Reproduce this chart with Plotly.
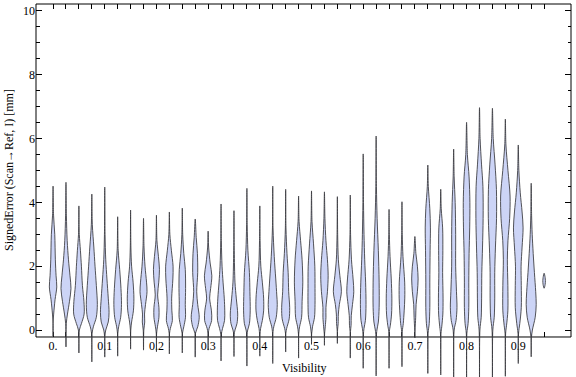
import plotly.graph_objects as go

# Violin positions (Visibility)
POSITIONS = [0.0, 0.025, 0.05, 0.075, 0.1, 0.125, 0.15, 0.175, 0.2, 0.225,
             0.25, 0.275, 0.3, 0.325, 0.35, 0.375, 0.4, 0.425, 0.45, 0.475,
             0.5, 0.525, 0.55, 0.575, 0.6, 0.625, 0.65, 0.675, 0.7, 0.725,
             0.75, 0.775, 0.8, 0.825, 0.85, 0.875, 0.9, 0.925, 0.95]

# Density profile knots of each violin (SignedError values, top to bottom)
PROFILE_Y = [
    [4.51, 3.6, 3.0, 2.2, 1.7, 1.35, 0.95, 0.5, 0.25, -0.2],
    [4.63, 3.6, 2.8, 2.2, 1.7, 1.3, 0.9, 0.5, 0.2, -0.53],
    [3.89, 3.0, 2.5, 2.0, 1.4, 0.9, 0.5, 0.2, 0.0, -0.72],
    [4.26, 3.3, 2.6, 2.0, 1.4, 0.8, 0.4, 0.1, -0.1, -1.0],
    [4.48, 3.0, 2.2, 1.6, 1.0, 0.55, 0.25, 0.0, -0.2, -0.85],
    [3.55, 2.5, 1.9, 1.3, 0.8, 0.4, 0.1, -0.1, -0.82],
    [3.76, 2.6, 2.0, 1.5, 1.0, 0.6, 0.25, 0.0, -0.6],
    [3.5, 2.6, 2.0, 1.5, 1.2, 0.8, 0.5, 0.25, 0.0, -0.63],
    [3.6, 2.8, 2.3, 1.9, 1.5, 1.1, 0.7, 0.4, 0.1, -0.1, -0.68],
    [3.7, 3.0, 2.5, 2.0, 1.6, 1.0, 0.6, 0.3, 0.05, -0.1, -0.75],
    [3.82, 3.0, 2.4, 1.9, 1.3, 0.8, 0.4, 0.1, -0.1, -0.72],
    [3.48, 2.9, 2.4, 1.8, 1.2, 0.8, 0.4, 0.1, -0.1, -0.85],
    [3.1, 2.6, 2.1, 1.7, 1.3, 1.0, 0.6, 0.3, 0.05, -0.1, -0.63],
    [3.95, 2.8, 2.0, 1.5, 1.0, 0.6, 0.3, 0.05, -0.15, -0.97],
    [3.74, 2.5, 1.5, 1.0, 0.5, 0.2, 0.0, -0.15, -0.83],
    [4.44, 3.3, 2.5, 1.8, 1.2, 0.6, 0.2, 0.0, -0.15, -1.13],
    [3.89, 2.8, 2.0, 1.5, 1.0, 0.6, 0.3, 0.05, -0.15, -0.82],
    [4.51, 3.2, 2.3, 1.6, 1.1, 0.8, 0.4, 0.1, -0.1, -1.05],
    [4.41, 3.2, 2.4, 1.8, 1.2, 0.7, 0.35, 0.05, -0.1, -0.69],
    [4.2, 3.4, 2.8, 2.2, 1.5, 0.9, 0.4, 0.1, -0.1, -0.88],
    [4.36, 3.4, 2.7, 2.0, 1.3, 0.8, 0.4, 0.1, -0.1, -0.45],
    [4.33, 3.5, 2.8, 2.2, 1.7, 1.2, 0.7, 0.4, 0.1, -0.1, -0.48],
    [4.18, 3.0, 2.2, 1.7, 1.2, 0.8, 0.5, 0.2, 0.0, -0.42],
    [4.23, 3.0, 2.2, 1.6, 1.2, 0.8, 0.45, 0.15, -0.05, -0.88],
    [5.52, 4.0, 3.0, 2.2, 1.5, 0.8, 0.3, 0.05, -0.15, -1.2],
    [6.08, 4.5, 3.5, 2.5, 1.5, 0.7, 0.25, 0.0, -0.2, -1.44],
    [3.78, 3.0, 2.3, 1.6, 1.0, 0.5, 0.15, -0.05, -1.2],
    [4.02, 3.0, 2.3, 1.5, 1.0, 0.6, 0.2, -0.05, -1.15],
    [2.93, 2.4, 2.0, 1.6, 1.2, 0.8, 0.4, 0.0, -0.25],
    [5.17, 4.5, 3.8, 3.2, 2.5, 1.5, 0.7, 0.2, -0.1, -1.36],
    [4.41, 3.8, 3.2, 2.5, 1.8, 1.0, 0.5, 0.1, -0.1, -1.41],
    [5.67, 4.8, 4.0, 3.0, 2.0, 1.2, 0.7, 0.3, 0.0, -1.5],
    [6.51, 5.5, 4.8, 4.0, 3.2, 2.4, 1.5, 0.7, 0.2, -0.1, -1.55],
    [6.97, 6.0, 5.2, 4.5, 3.5, 2.6, 1.8, 1.0, 0.4, 0.0, -1.6],
    [6.95, 6.0, 5.2, 4.4, 3.5, 2.6, 1.8, 1.0, 0.4, 0.0, -1.55],
    [6.61, 5.8, 5.0, 4.2, 3.5, 2.8, 2.2, 1.4, 0.6, 0.15, -0.1, -1.45],
    [5.8, 5.0, 4.3, 3.7, 3.2, 2.6, 2.0, 1.4, 0.7, 0.2, -0.1, -1.05],
    [4.6, 3.6, 3.0, 2.4, 1.8, 1.2, 0.8, 0.4, 0.0, -0.25, -0.84],
    [1.78, 1.65, 1.55, 1.42, 1.31],
]

# Relative density (half-width) at each knot
PROFILE_D = [
    [0, 0.5, 1.7, 2.3, 3, 3.7, 2, 0.6, 0, 0],
    [0, 0.4, 1.2, 2.5, 4, 5, 3.5, 1.5, 0.3, 0],
    [0, 0.4, 1.5, 2.5, 3.5, 5, 5.2, 2.5, 0.5, 0],
    [0, 0.5, 2, 3.2, 4.5, 5.5, 4.5, 1.5, 0.3, 0],
    [0, 0.3, 1, 2.2, 3.5, 4.3, 3.5, 1, 0.2, 0],
    [0, 0.5, 2, 3.3, 3.8, 3, 1, 0.2, 0],
    [0, 0.3, 1, 2.5, 3.3, 2.8, 1, 0.2, 0],
    [0, 0.5, 1.5, 3, 3.5, 2, 1, 1.2, 0.3, 0],
    [0, 0.5, 2, 3, 2.3, 1.2, 2.5, 2.5, 1, 0.2, 0],
    [0, 0.5, 2, 3.7, 3.5, 2.3, 2.5, 3, 1, 0.2, 0],
    [0, 0.4, 1.5, 3, 3.3, 3, 3.2, 1.5, 0.2, 0],
    [0, 1, 2.2, 2.5, 1.5, 2.5, 4, 2.5, 0.3, 0],
    [0, 0.5, 2, 3.7, 2.5, 1.5, 3.3, 3.5, 1, 0.2, 0],
    [0, 0.3, 1, 2, 3.2, 3.7, 3.5, 1.5, 0.2, 0],
    [0, 0.3, 1, 2.3, 3.7, 3, 1, 0.2, 0],
    [0, 0.3, 1, 2.5, 3, 3.3, 2.5, 0.8, 0.2, 0],
    [0, 0.3, 1, 2.5, 3.8, 3.8, 2.5, 0.8, 0.2, 0],
    [0, 0.3, 1.5, 3, 4, 4.5, 3.5, 1, 0.2, 0],
    [0, 0.3, 1.3, 2.5, 3, 4, 3.5, 1, 0.2, 0],
    [0, 0.5, 2, 3.5, 4.2, 3.5, 3, 1, 0.2, 0],
    [0, 0.5, 2, 3.3, 3.5, 3.5, 3, 1, 0.2, 0],
    [0, 0.5, 1.5, 3, 3.7, 3, 1.5, 1.5, 0.8, 0.2, 0],
    [0, 0.3, 1, 2.5, 4, 2, 1, 0.8, 0.2, 0],
    [0, 0.3, 1.2, 2.8, 3.5, 2.2, 1, 0.8, 0.2, 0],
    [0, 0.3, 0.8, 1.5, 2.4, 2.8, 2.2, 0.8, 0.2, 0],
    [0, 0.3, 1, 2.2, 3, 3, 2.2, 0.8, 0.2, 0],
    [0, 0.3, 1, 2.2, 2.8, 2.5, 1.3, 0.3, 0],
    [0, 0.3, 1, 2.7, 2.8, 2.2, 1.3, 0.3, 0],
    [0, 1, 2.5, 3.2, 2.5, 1.2, 0.8, 0.2, 0],
    [0, 0.5, 2, 2.6, 2.3, 2, 2, 1.4, 0.3, 0],
    [0, 0.5, 1.9, 2.1, 1.9, 2.3, 2.1, 1, 0.3, 0],
    [0, 0.5, 1.5, 2, 2, 2.8, 3.3, 2.4, 0.5, 0],
    [0, 0.8, 2.5, 3.3, 3.1, 2.5, 2.2, 2.2, 1.5, 0.3, 0],
    [0, 0.6, 2, 3.4, 3.6, 3, 2.3, 2.1, 1.7, 0.4, 0],
    [0, 0.8, 2.6, 4, 4.1, 3, 2.3, 2.3, 1.8, 0.4, 0],
    [0, 0.6, 2.6, 4.7, 4.3, 2.6, 2, 2.5, 2.5, 1.2, 0.3, 0],
    [0, 0.6, 2, 3.8, 4.8, 3.8, 2.8, 3, 3, 1.5, 0.3, 0],
    [0, 0.4, 1, 2, 3.2, 4.5, 5, 4, 1.2, 0.2, 0],
    [0, 1, 1.3, 1, 0],
]

X_TICK_LABELS = ["0.", "", "", "", "0.1", "", "", "", "0.2", "", "", "",
                 "0.3", "", "", "", "0.4", "", "", "", "0.5", "", "", "",
                 "0.6", "", "", "", "0.7", "", "", "", "0.8", "", "", "",
                 "0.9", "", ""]
Y_TICKS = [0, 2, 4, 6, 8, 10]
Y_TICK_LABELS = ["0", "2", "4", "6", "8", "10"]
Y_MINOR = [0.5, 1, 1.5, 2.5, 3, 3.5, 4.5, 5, 5.5, 6.5, 7, 7.5, 8.5, 9, 9.5]

WIDTH_SCALE = 0.00194   # x-units per density unit
X_RANGE = [-0.033, 1.002]
Y_RANGE = [-1.473, 10.219]
FRAME_BOTTOM = -0.219

FILL = "rgb(204,212,246)"
EDGE = "rgba(55,55,60,0.85)"
FONT = "Liberation Serif"
FS = 12

fig = go.Figure()
for x0, ys, ds in zip(POSITIONS, PROFILE_Y, PROFILE_D):
    ry = ys[::-1]
    rx = [x0 + d * WIDTH_SCALE for d in ds[::-1]]
    ly = ys[1:]
    lx = [x0 - d * WIDTH_SCALE for d in ds[1:]]
    fig.add_trace(go.Scatter(
        x=rx + lx, y=ry + ly, mode="lines", fill="toself",
        fillcolor=FILL,
        line=dict(color=EDGE, width=1, shape="spline", smoothing=0.9),
        hoverinfo="skip", showlegend=False))

# dummy trace for mirrored axes
fig.add_trace(go.Scatter(x=[None], y=[None], xaxis="x2", yaxis="y2",
                         showlegend=False, hoverinfo="skip"))

tickfont = dict(family=FONT, size=FS, color="black")
common = dict(showgrid=False, zeroline=False, showline=False,
              tickwidth=1, tickcolor="black", tickmode="array",
              layer="below traces", fixedrange=True, automargin=False)

fig.update_layout(
    width=576, height=377,
    margin=dict(l=36, r=5, t=4, b=0, autoexpand=False),
    paper_bgcolor="white", plot_bgcolor="white",
    font=dict(family=FONT, size=FS, color="black"),
    xaxis=dict(range=X_RANGE, anchor="free",
               position=(FRAME_BOTTOM - Y_RANGE[0]) / (Y_RANGE[1] - Y_RANGE[0]),
               ticks="inside", ticklen=5,
               tickvals=POSITIONS, ticktext=X_TICK_LABELS,
               tickfont=tickfont, **common),
    yaxis=dict(range=Y_RANGE, ticks="inside", ticklen=6,
               tickvals=Y_TICKS, ticktext=Y_TICK_LABELS,
               minor=dict(tickmode="array", tickvals=Y_MINOR, ticks="inside",
                          ticklen=3.5, tickwidth=1, tickcolor="black"),
               tickfont=tickfont, **common),
    xaxis2=dict(range=X_RANGE, overlaying="x", side="top", anchor="y2",
                ticks="inside", ticklen=5, tickvals=POSITIONS,
                showticklabels=False, **common),
    yaxis2=dict(range=Y_RANGE, overlaying="y", side="right", anchor="x2",
                ticks="inside", ticklen=6, tickvals=Y_TICKS,
                showticklabels=False,
                minor=dict(tickmode="array", tickvals=Y_MINOR, ticks="inside",
                           ticklen=3.5, tickwidth=1, tickcolor="black"),
                **common),
    shapes=[
        dict(type="line", xref="paper", yref="paper", x0=0, x1=1, y0=1, y1=1,
             line=dict(color="black", width=1), layer="below"),
        dict(type="line", xref="paper", yref="y", x0=0, x1=1,
             y0=FRAME_BOTTOM, y1=FRAME_BOTTOM,
             line=dict(color="black", width=1), layer="below"),
        dict(type="line", xref="paper", yref="y", x0=0, x1=0,
             y0=FRAME_BOTTOM, y1=Y_RANGE[1],
             line=dict(color="black", width=1), layer="below"),
        dict(type="line", xref="paper", yref="y", x0=1, x1=1,
             y0=FRAME_BOTTOM, y1=Y_RANGE[1],
             line=dict(color="black", width=1), layer="below"),
    ],
    annotations=[
        dict(text="SignedError (Scan\u2192Ref, I) [mm]", textangle=-90,
             xref="paper", yref="paper", x=-0.0514, y=0.5536,
             xanchor="center", yanchor="middle", showarrow=False,
             font=dict(family=FONT, size=FS, color="black")),
        dict(text="Visibility", xref="paper", yref="paper",
             x=0.501, y=0.024, xanchor="center", yanchor="middle",
             showarrow=False, font=dict(family=FONT, size=FS, color="black")),
    ],
)

fig.write_html("out.html",
               config={"displayModeBar": False, "staticPlot": True},
               post_script="document.body.style.margin='0px';"
                           "document.body.style.padding='0px';"
                           "document.body.style.overflow='hidden';")
